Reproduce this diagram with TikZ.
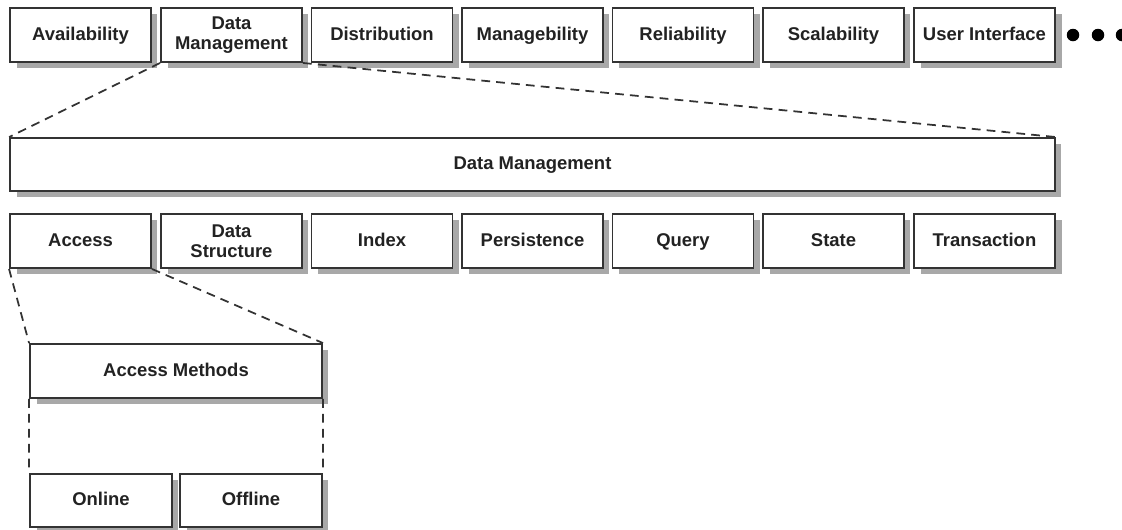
\documentclass[tikz,border=0pt]{standalone}
\usepackage{fontspec}
\setmainfont{Liberation Sans}
\usetikzlibrary{shadows}
\definecolor{edge}{HTML}{333333}
\definecolor{txt}{HTML}{222222}
\definecolor{shade}{HTML}{A8A8A8}
\begin{document}
\begin{tikzpicture}[x=0.02cm,y=-0.02cm,
  box/.style={draw=edge, line width=1.1pt, fill=white, text=txt,
    font=\fontsize{10.5}{11.5}\selectfont\bfseries, align=center,
    minimum width=2.82cm, minimum height=1.08cm, inner sep=0pt,
    drop shadow={shadow xshift=0.13cm, shadow yshift=-0.11cm, fill=shade, opacity=1}},
  one/.style={box, text height=1.6ex, text depth=0.45ex},
  link/.style={draw=edge, line width=1pt, dash pattern=on 5pt off 3.5pt},
  dot/.style={circle, fill=black, minimum size=0.25cm, inner sep=0pt}]
\useasboundingbox (0,0) rectangle (1122,529);
% top row
\node[one] (av) at (80.5,35) {Availability};
\node[box] (dm) at (231.5,35) {Data\\Management};
\node[one] (di) at (382,35) {Distribution};
\node[one] (ma) at (532.5,35) {Managebility};
\node[one] (re) at (683,35) {Reliability};
\node[one] (sc) at (833.5,35) {Scalability};
\node[one] (ui) at (984.5,35) {User Interface};
\node[dot] (d1) at (1073,35) {};
\node[dot] (d2) at (1098,35) {};
\node[dot] (d3) at (1122,35) {};
% wide box
\node[one, minimum width=20.9cm, minimum height=1.06cm] (dmw) at (532.5,164.5) {Data Management};
% second row
\node[one] (ac) at (80.5,241) {Access};
\node[box] (ds) at (231.5,241) {Data\\Structure};
\node[one] (ix) at (382,241) {Index};
\node[one] (pe) at (532.5,241) {Persistence};
\node[one] (qu) at (683,241) {Query};
\node[one] (st) at (833.5,241) {State};
\node[one] (tr) at (984.5,241) {Transaction};
% access methods
\node[one, minimum width=5.84cm] (am) at (176,371) {Access Methods};
\node[one, minimum width=2.84cm, minimum height=1.06cm] (on) at (101,500.5) {Online};
\node[one, minimum width=2.84cm, minimum height=1.06cm] (of) at (251,500.5) {Offline};
% connectors
\draw[link] (dm.south west) -- (dmw.north west);
\draw[link] (dm.south east) -- (dmw.north east);
\draw[link] (ac.south west) -- (am.north west);
\draw[link] (ac.south east) -- (am.north east);
\draw[link] (am.south west) -- (on.north west);
\draw[link] (am.south east) -- (of.north east);
\end{tikzpicture}
\end{document}
